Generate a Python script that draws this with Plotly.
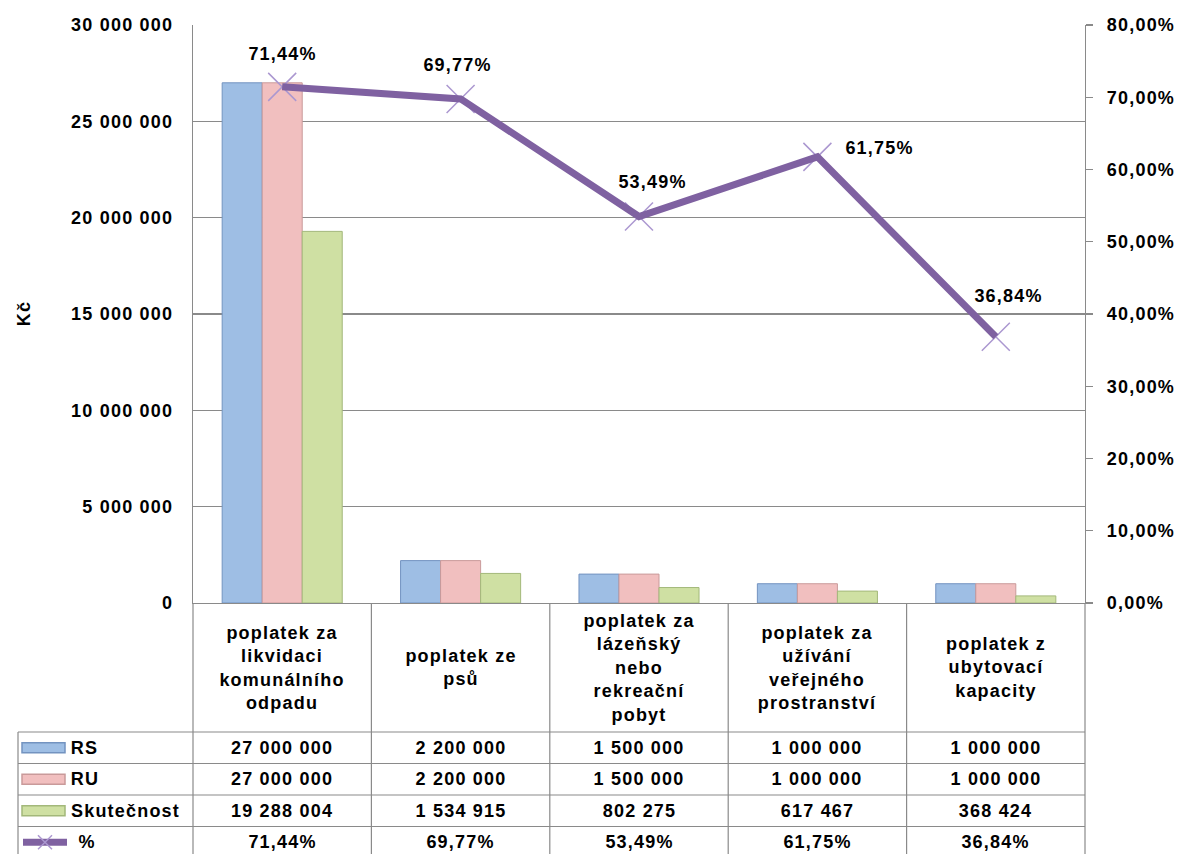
import plotly.graph_objects as go

# ---------------- data ----------------
categories = [
    "poplatek za likvidaci komunálního odpadu",
    "poplatek ze psů",
    "poplatek za lázeňský nebo rekreační pobyt",
    "poplatek za užívání veřejného prostranství",
    "poplatek z ubytovací kapacity",
]
category_lines = [
    ["poplatek za", "likvidaci", "komunálního", "odpadu"],
    ["poplatek ze", "psů"],
    ["poplatek za", "lázeňský", "nebo", "rekreační", "pobyt"],
    ["poplatek za", "užívání", "veřejného", "prostranství"],
    ["poplatek z", "ubytovací", "kapacity"],
]
rs = [27000000, 2200000, 1500000, 1000000, 1000000]
ru = [27000000, 2200000, 1500000, 1000000, 1000000]
skutecnost = [19288004, 1534915, 802275, 617467, 368424]
pct = [71.44, 69.77, 53.49, 61.75, 36.84]

series_names = ["RS", "RU", "Skutečnost", "%"]
y_title = "Kč"

# ---------------- style ----------------
FONT = "Liberation Sans, Arial, sans-serif"
FS = 18
SPACING = 1.2
GRID = "#8a8a8a"
C_RS, C_RS_L = "#9ebee4", "#7393c0"
C_RU, C_RU_L = "#f1bfbf", "#c99a9a"
C_SK, C_SK_L = "#cfe0a3", "#a3b87a"
C_LINE = "#7f61a1"
C_MARK = "#ab97d0"
label_shift = [(0, 33), (-3, 34), (13, 35), (62, 9), (13, 41)]

W, H = 1180, 854
L, R, T, B = 193, 95, 25, 251
PH = H - T - B
PW = W - L - R


def py(p):
    return (H - B - p) / PH


def px(p):
    return (p - L) / PW


def fmt_int(v):
    return f"{v:,}".replace(",", " ")


def fmt_pct(v):
    return f"{v:.2f}%".replace(".", ",")


def bold(size=FS):
    return dict(family=FONT, size=size, color="black", weight="bold")


fig = go.Figure()
fig.add_trace(go.Bar(x=categories, y=rs, name=series_names[0],
                     marker=dict(color=C_RS, line=dict(color=C_RS_L, width=1))))
fig.add_trace(go.Bar(x=categories, y=ru, name=series_names[1],
                     marker=dict(color=C_RU, line=dict(color=C_RU_L, width=1))))
fig.add_trace(go.Bar(x=categories, y=skutecnost, name=series_names[2],
                     marker=dict(color=C_SK, line=dict(color=C_SK_L, width=1))))
pct_frac = [p / 100 for p in pct]
fig.add_trace(go.Scatter(x=categories, y=pct_frac, yaxis="y2", mode="markers",
                         marker=dict(symbol="x-thin", size=28,
                                     line=dict(color=C_MARK, width=1.5)),
                         hoverinfo="skip", showlegend=False))
fig.add_trace(go.Scatter(x=categories, y=pct_frac, yaxis="y2", mode="lines",
                         name=series_names[3],
                         line=dict(color=C_LINE, width=7)))

annotations = []
shapes = []

# data labels
for c, p, (dx, dy) in zip(categories, pct_frac, label_shift):
    annotations.append(dict(x=c, y=p, xref="x", yref="y2", text=fmt_pct(p * 100),
                            showarrow=False, xshift=dx, yshift=dy, font=bold()))

# y title
annotations.append(dict(x=px(24), y=0.5, xref="paper", yref="paper", text=y_title,
                        textangle=-90, showarrow=False, xanchor="center", yanchor="middle",
                        font=bold()))

# table geometry (pixels)
header_mid = (603 + 732) / 2
row_tops = [732, 763.5, 795, 826.5]
row_h = 31.5
bottom = 870

# category header labels
for c, lines in zip(categories, category_lines):
    annotations.append(dict(x=c, y=py(header_mid), xref="x", yref="paper",
                            text="<br>".join(lines), showarrow=False, align="center",
                            yanchor="middle", font=bold()))

# table values
rows = [[fmt_int(v) for v in rs], [fmt_int(v) for v in ru],
        [fmt_int(v) for v in skutecnost], [fmt_pct(v) for v in pct]]
for r, top in zip(rows, row_tops):
    for c, t in zip(categories, r):
        annotations.append(dict(x=c, y=py(top + row_h / 2), xref="x", yref="paper",
                                text=t, showarrow=False, yanchor="middle", font=bold()))

# legend column
sym_cols = [(C_RS, C_RS_L), (C_RU, C_RU_L), (C_SK, C_SK_L)]
for i, (name, top) in enumerate(zip(series_names, row_tops)):
    mid = top + row_h / 2
    tx = 69 if i < 3 else 76
    annotations.append(dict(x=px(tx), y=py(mid), xref="paper", yref="paper",
                            text=name, showarrow=False, xanchor="left", yanchor="middle",
                            xshift=len(name) * SPACING / 2, font=bold()))
    if i < 3:
        fc, lc = sym_cols[i]
        shapes.append(dict(type="rect", xref="paper", yref="paper",
                           x0=px(22), x1=px(65), y0=py(mid - 5), y1=py(mid + 5),
                           fillcolor=fc, line=dict(color=lc, width=1.5)))
    else:
        shapes.append(dict(type="line", xref="paper", yref="paper",
                           x0=px(23), x1=px(67), y0=py(mid), y1=py(mid),
                           line=dict(color=C_LINE, width=7)))
        for s in (-1, 1):
            shapes.append(dict(type="line", xref="paper", yref="paper",
                               x0=px(38), x1=px(52), y0=py(mid - 7 * s), y1=py(mid + 7 * s),
                               line=dict(color=C_MARK, width=1.5)))

# table lines
for top in row_tops:
    shapes.append(dict(type="line", xref="paper", yref="paper", x0=px(18), x1=1,
                       y0=py(top), y1=py(top), line=dict(color=GRID, width=1.2)))
shapes.append(dict(type="line", xref="paper", yref="paper", x0=px(18), x1=px(18),
                   y0=py(row_tops[0]), y1=py(bottom), line=dict(color=GRID, width=1.2)))
for xb in [0, 1]:
    shapes.append(dict(type="line", xref="paper", yref="paper", x0=xb, x1=xb,
                       y0=0, y1=py(bottom), line=dict(color=GRID, width=1.2)))
for k in range(1, len(categories)):
    shapes.append(dict(type="line", xref="x", yref="paper", x0=k - 0.5, x1=k - 0.5,
                       y0=0, y1=py(bottom), line=dict(color=GRID, width=1.2)))

fig.update_layout(
    width=W, height=H,
    margin=dict(l=L, r=R, t=T, b=B, autoexpand=False),
    paper_bgcolor="white", plot_bgcolor="white",
    showlegend=False,
    barmode="group", bargap=0.327, bargroupgap=0,
    separators=", ",
    font=dict(family=FONT, size=FS, color="black"),
    xaxis=dict(range=[-0.5, len(categories) - 0.5], showticklabels=False, ticks="",
               showline=True, linecolor=GRID, linewidth=1.2, showgrid=False,
               zeroline=False, fixedrange=True, automargin=False),
    yaxis=dict(range=[0, 30000000], dtick=5000000, tickformat=",d",
               showgrid=True, gridcolor=GRID, gridwidth=1.2, zeroline=False,
               showline=True, linecolor=GRID, linewidth=1.2, ticks="",
               ticklabelstandoff=15, automargin=False, tickfont=bold()),
    yaxis2=dict(range=[0, 0.8], dtick=0.1, tickformat=".2%", overlaying="y",
                side="right", showgrid=False, zeroline=False,
                showline=True, linecolor=GRID, linewidth=1.2,
                ticks="outside", ticklen=7, tickcolor=GRID, tickwidth=1.2,
                ticklabelstandoff=10, automargin=False, tickfont=bold()),
    annotations=annotations,
    shapes=shapes,
)

fig.write_html(
    "out.html",
    config={"displayModeBar": False, "staticPlot": True},
    post_script=(
        "document.body.style.margin='0';document.body.style.overflow='hidden';"
        "document.querySelectorAll('svg text').forEach(function(t){"
        "t.style.letterSpacing='" + str(SPACING) + "px';});"
    ),
)
